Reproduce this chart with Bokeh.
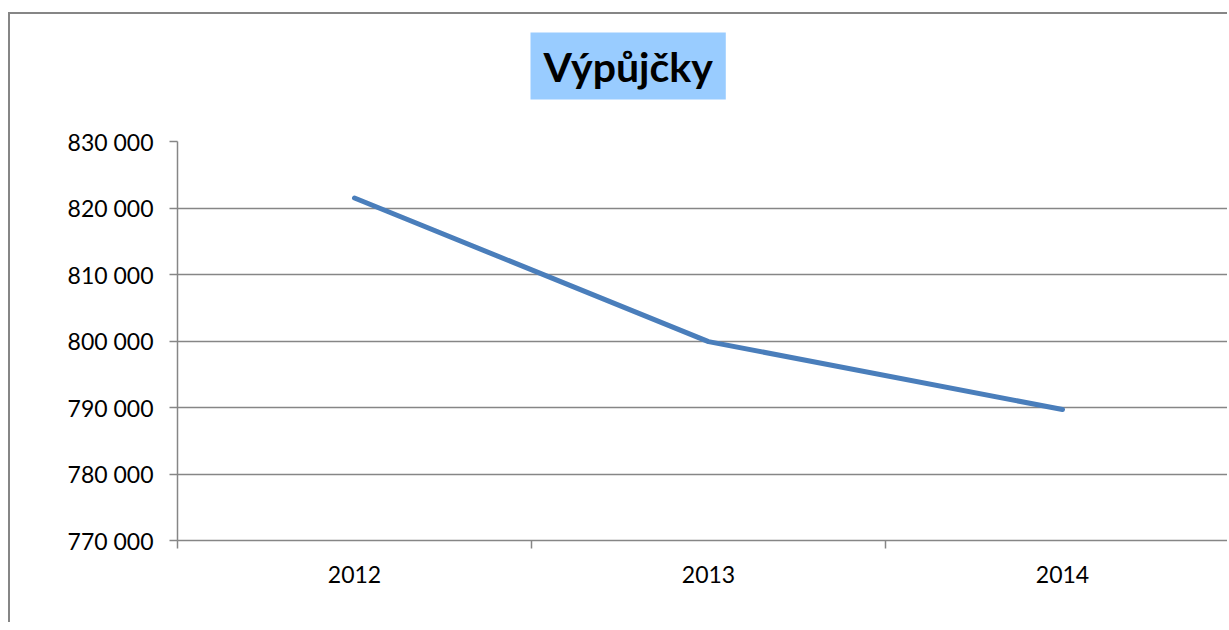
from bokeh.plotting import figure
from bokeh.models import Range1d, FixedTicker, Title
from bokeh.embed import file_html
from bokeh.resources import INLINE

# Data
years = [2012, 2013, 2014]
loans = [821500, 799900, 789700]
y_ticks = [770000, 780000, 790000, 800000, 810000, 820000, 830000]
y_tick_labels = ["770 000", "780 000", "790 000", "800 000", "810 000", "820 000", "830 000"]
title_text = "Výpůjčky"

GREY = "#868686"
FONT = "Lato"

W = 1219
LEFT = 167
p = figure(width=W, height=610, output_backend="svg", toolbar_location=None,
           x_range=Range1d(2011.5, 2011.5 + (W - LEFT) / 354.0), y_range=Range1d(770000, 830000),
           min_border_left=LEFT, min_border_top=127, min_border_bottom=84, min_border_right=0,
           background_fill_color="white", border_fill_color="white")
p.styles = {"margin-left": "8px", "margin-top": "12px",
            "border-left": "2px solid " + GREY, "border-top": "2px solid " + GREY,
            "border-right": "0px", "border-bottom": "0px"}
p.outline_line_color = None

p.line(years, loans, line_color="#4A7EBB", line_width=5, line_cap="round", line_join="round")

# spacer between title and plot area
spacer = Title(text=" ", text_font_size="1px", standoff=39)
p.add_layout(spacer, "above")

# title
p.title.text = title_text
p.title.text_font = FONT
p.title.text_font_style = "bold"
p.title.text_font_size = "41px"
p.title.text_color = "black"
p.title.align = "left"
p.title.offset = 530 - (10 + LEFT)
p.title.background_fill_color = "#99CCFF"
p.title.padding = dict(left=13, right=13, top=9, bottom=9)
p.title.standoff = 0

# y axis
p.yaxis.ticker = FixedTicker(ticks=y_ticks, minor_ticks=[])
p.yaxis.major_label_overrides = {t: s for t, s in zip(y_ticks, y_tick_labels)}
p.yaxis.axis_line_color = GREY
p.yaxis.axis_line_width = 1.5
p.yaxis.major_tick_line_color = GREY
p.yaxis.major_tick_line_width = 1.5
p.yaxis.major_tick_out = 8
p.yaxis.major_tick_in = 0
p.yaxis.minor_tick_line_color = None
p.yaxis.major_label_text_font = FONT
p.yaxis.major_label_text_font_size = "23px"
p.yaxis.major_label_text_color = "black"
p.yaxis.major_label_standoff = 16

# x axis
p.xaxis.ticker = FixedTicker(ticks=years, minor_ticks=[y - 0.5 for y in years])
p.xaxis.major_label_overrides = {y: str(y) for y in years}
p.xaxis.axis_line_color = GREY
p.xaxis.axis_line_width = 1.5
p.xaxis.major_tick_line_color = None
p.xaxis.major_tick_out = 0
p.xaxis.major_tick_in = 0
p.xaxis.minor_tick_line_color = GREY
p.xaxis.minor_tick_line_width = 1.5
p.xaxis.minor_tick_out = 8
p.xaxis.minor_tick_in = 0
p.xaxis.major_label_text_font = FONT
p.xaxis.major_label_text_font_size = "23px"
p.xaxis.major_label_text_color = "black"
p.xaxis.major_label_standoff = 17

p.xgrid.grid_line_color = None
p.ygrid.ticker = FixedTicker(ticks=y_ticks)
p.ygrid.grid_line_color = GREY
p.ygrid.grid_line_width = 1.5

open("out.html", "w").write(file_html(p, INLINE))
